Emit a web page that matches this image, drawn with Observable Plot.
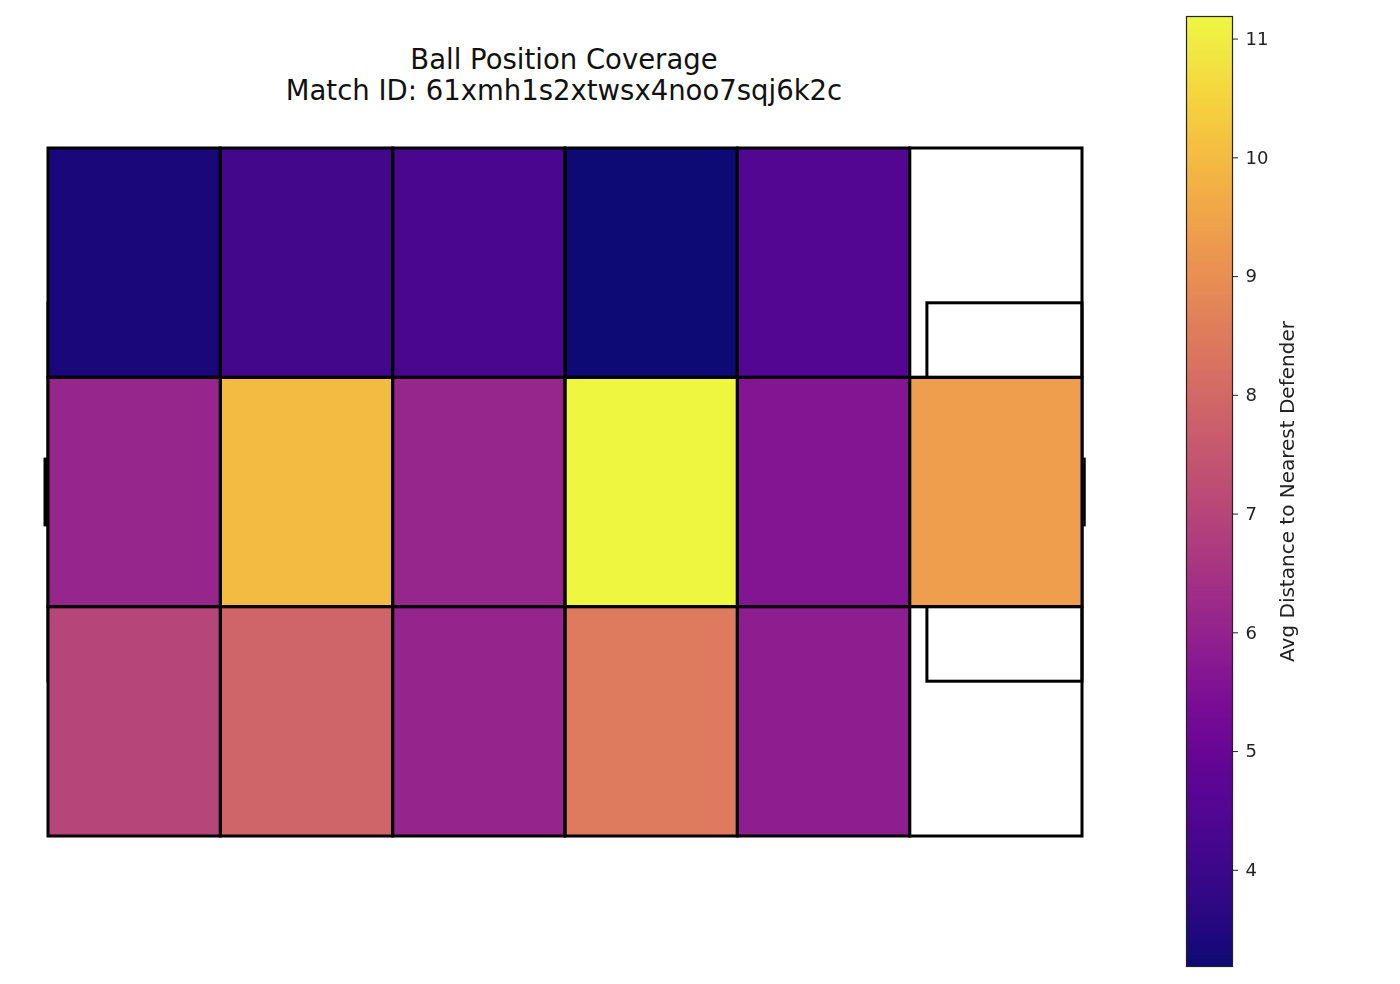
<!DOCTYPE html>
<html><head><meta charset="utf-8">
<script src="https://cdn.jsdelivr.net/npm/d3@7"></script>
<script src="https://cdn.jsdelivr.net/npm/@observablehq/plot@0.6"></script>
<style>
body{margin:0;background:#fff;font-family:"DejaVu Sans",sans-serif;}
#wrap{position:relative;width:1400px;height:984px;overflow:hidden;}
#title{position:absolute;left:0;top:44px;width:1128px;text-align:center;font-size:27.5px;line-height:31px;color:#111;pointer-events:none;}
#main{position:absolute;left:0;top:0;filter:saturate(0.85);}
#cbar{position:absolute;left:1150px;top:0;filter:saturate(0.85);}
</style></head><body>
<div id="wrap"><div id="main"></div><div id="cbar"></div>
<div id="title">Ball Position Coverage<br>Match ID: 61xmh1s2xtwsx4noo7sqj6k2c</div></div>
<script>
// Pitch (StatsBomb units)
const pitchLength = 120, pitchWidth = 80;
const xEdges = [0, 20, 40, 60, 80, 100, 120];
const yEdges = [0, 80 / 3, 160 / 3, 80];
// Avg distance to nearest defender per zone (rows top→bottom, columns left→right)
const row1 = [3.35, 4.1, 4.3, 3.19, 4.5, null];
const row2 = [6.1, 10.0, 6.1, 11.19, 5.6, 9.35];
const row3 = [7.0, 7.9, 6.05, 8.5, 5.85, null];
const colorMin = 3.19, colorMax = 11.19;
const colorTicks = [4, 5, 6, 7, 8, 9, 10, 11];
const penaltyBoxes = [{x1: 0, x2: 18, y1: 18, y2: 62}, {x1: 102, x2: 120, y1: 18, y2: 62}];
const leftGoal = [{x: 0, y1: 36, y2: 44}];
const rightGoal = [{x: 120, y1: 36, y2: 44}];
const colorLabel = "Avg Distance to Nearest Defender";

const rows = [row1, row2, row3];
const cells = [];
rows.forEach((r, i) => r.forEach((v, j) => cells.push({
  x1: xEdges[j], x2: xEdges[j + 1], y1: yEdges[i], y2: yEdges[i + 1], value: v
})));

const colorScale = {type: "linear", scheme: "plasma", domain: [colorMin, colorMax]};

const main = Plot.plot({
  width: 1140, height: 984,
  marginLeft: 48, marginRight: 58, marginTop: 148, marginBottom: 148,
  x: {domain: [0, pitchLength], axis: null},
  y: {domain: [0, pitchWidth], reverse: true, axis: null},
  color: colorScale,
  style: {background: "transparent"},
  marks: [
    Plot.rect(penaltyBoxes, {x1: "x1", x2: "x2", y1: "y1", y2: "y2", fill: "none", stroke: "black", strokeWidth: 3}),
    Plot.ruleX(leftGoal, {x: "x", y1: "y1", y2: "y2", dx: -3, stroke: "black", strokeWidth: 4}),
    Plot.ruleX(rightGoal, {x: "x", y1: "y1", y2: "y2", dx: 2, stroke: "black", strokeWidth: 2.5}),
    Plot.rect(cells.filter(d => d.value != null), {x1: "x1", x2: "x2", y1: "y1", y2: "y2", fill: "value", inset: 0}),
    Plot.rect(cells, {x1: "x1", x2: "x2", y1: "y1", y2: "y2", fill: "none", stroke: "black", strokeWidth: 3, inset: 0})
  ]
});
document.getElementById("main").appendChild(main);

const cbar = Plot.plot({
  width: 250, height: 984,
  marginLeft: 36, marginRight: 168, marginTop: 16, marginBottom: 18,
  x: {domain: [0, 1], axis: null},
  y: {domain: [colorMin, colorMax], axis: null},
  color: colorScale,
  style: {background: "transparent", fontSize: "18px", fontFamily: "DejaVu Sans", color: "#222"},
  marks: [
    Plot.raster({x1: 0, x2: 1, y1: colorMin, y2: colorMax, width: 1, height: 800, fill: (x, y) => y}),
    Plot.frame({stroke: "#222", strokeWidth: 1.2}),
    Plot.axisY(colorTicks, {anchor: "right", tickSize: 5, tickPadding: 8, tickFormat: d => String(d),
      label: null, fontSize: 18}),
    Plot.text([colorLabel], {text: d => d, frameAnchor: "middle", rotate: -90, dx: 78, fontSize: 20, fill: "#222"})
  ]
});
document.getElementById("cbar").appendChild(cbar);
</script>
</body></html>
